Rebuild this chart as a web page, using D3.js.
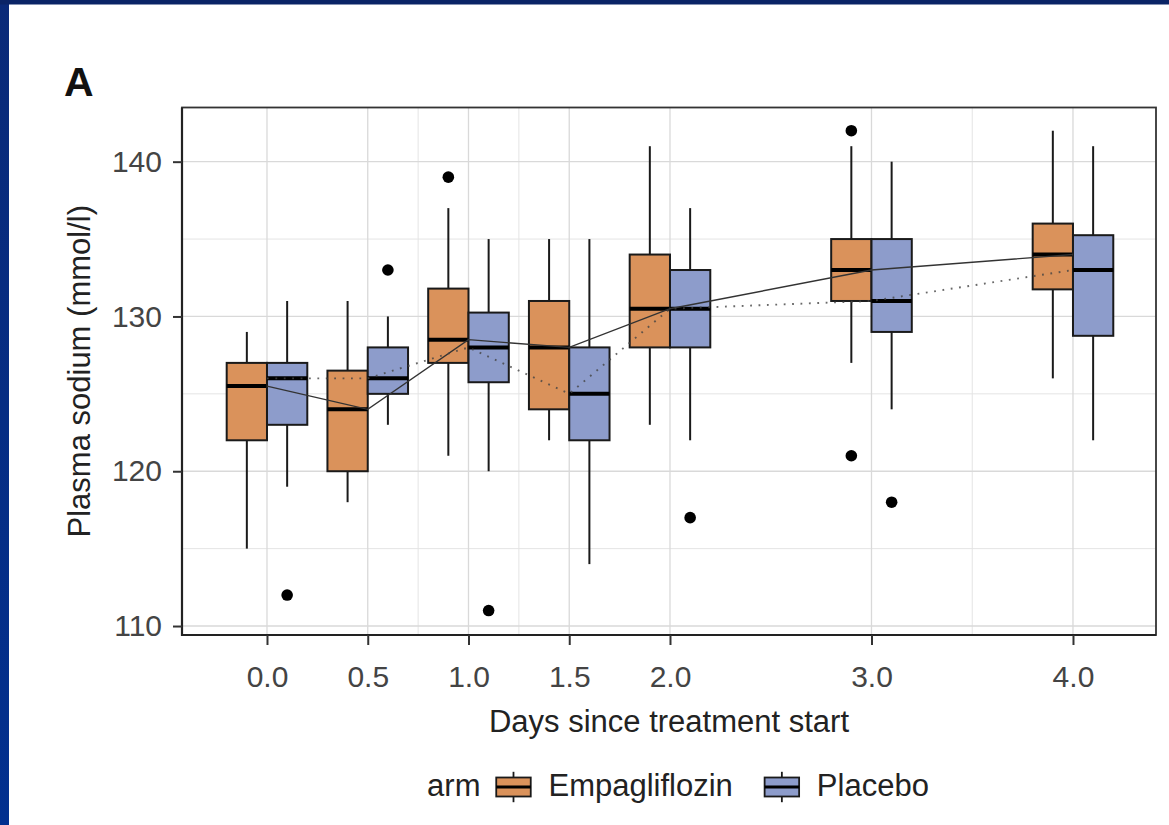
<!DOCTYPE html>
<html><head><meta charset="utf-8">
<script src="https://cdn.jsdelivr.net/npm/d3@7"></script>
<style>body{margin:0;background:#fff;} svg{display:block}</style>
</head><body>
<svg id="chart" width="1169" height="825"></svg>
<script>
// ---------------- data ----------------
const days = [0, 0.5, 1, 1.5, 2, 3, 4];
const xTickLabels = ["0.0", "0.5", "1.0", "1.5", "2.0", "3.0", "4.0"];
const xMinorBreaks = [0.75, 1.25, 3.5];
const yTicks = [110, 120, 130, 140];
const yMinorBreaks = [115, 125, 135];
const arms = ["Empagliflozin", "Placebo"];
// [lower whisker, Q1, median, Q3, upper whisker]
const empaStats = [
  [115, 122, 125.5, 127, 129],
  [118, 120, 124, 126.5, 131],
  [121, 127, 128.5, 131.8, 137],
  [122, 124, 128, 131, 135],
  [123, 128, 130.5, 134, 141],
  [127, 131, 133, 135, 141],
  [126, 131.75, 134, 136, 142]
];
const empaOutliers = [[], [], [139], [], [], [142, 121], []];
const placeboStats = [
  [119, 123, 126, 127, 131],
  [123, 125, 126, 128, 130],
  [120, 125.75, 128, 130.25, 135],
  [114, 122, 125, 128, 135],
  [122, 128, 130.5, 133, 137],
  [124, 129, 131, 135, 140],
  [122, 128.75, 133, 135.25, 141]
];
const placeboOutliers = [[112], [133], [111], [], [117], [118], []];

// ---------------- style ----------------
const fills = {"Empagliflozin": "#DA925B", "Placebo": "#8D9CCB"};
const dodge = {"Empagliflozin": -0.1, "Placebo": 0.1};
const boxWidthDays = 0.2;
const FONT = "'Liberation Sans', Arial, Helvetica, sans-serif";

const svg = d3.select("#chart");
svg.append("rect").attr("width", 1169).attr("height", 825).attr("fill", "#fff");
// dark blue slide frame
const grad = svg.append("defs").append("linearGradient").attr("id", "lb").attr("x1", 0).attr("x2", 0).attr("y1", 0).attr("y2", 1);
grad.append("stop").attr("offset", "0%").attr("stop-color", "#0a2a78");
grad.append("stop").attr("offset", "100%").attr("stop-color", "#02308f");
svg.append("rect").attr("x", 0).attr("y", 0).attr("width", 9).attr("height", 825).attr("fill", "url(#lb)");
svg.append("rect").attr("x", 0).attr("y", 0).attr("width", 1169).attr("height", 4.5).attr("fill", "#0a2466");

const P = {left: 182, right: 1156, top: 107.5, bottom: 635};
const x = d3.scaleLinear().domain([-0.4218, 4.412]).range([P.left, P.right]);
const y = d3.scaleLinear().domain([109.42, 143.5]).range([P.bottom, P.top]);

const g = svg.append("g");
// grid
g.selectAll(".ymin").data(yMinorBreaks).join("line")
  .attr("x1", P.left).attr("x2", P.right).attr("y1", d => y(d)).attr("y2", d => y(d))
  .attr("stroke", "#e4e4e4").attr("stroke-width", 1);
g.selectAll(".xmin").data(xMinorBreaks).join("line")
  .attr("y1", P.top).attr("y2", P.bottom).attr("x1", d => x(d)).attr("x2", d => x(d))
  .attr("stroke", "#e4e4e4").attr("stroke-width", 1);
g.selectAll(".ymaj").data(yTicks).join("line")
  .attr("x1", P.left).attr("x2", P.right).attr("y1", d => y(d)).attr("y2", d => y(d))
  .attr("stroke", "#d9d9d9").attr("stroke-width", 1.3);
g.selectAll(".xmaj").data(days).join("line")
  .attr("y1", P.top).attr("y2", P.bottom).attr("x1", d => x(d)).attr("x2", d => x(d))
  .attr("stroke", "#d9d9d9").attr("stroke-width", 1.3);

// boxes
const bw = x(boxWidthDays) - x(0);
function drawArm(arm, stats, outliers) {
  const ga = g.append("g");
  stats.forEach((s, i) => {
    const cx = x(days[i] + dodge[arm]);
    ga.append("line").attr("x1", cx).attr("x2", cx).attr("y1", y(s[4])).attr("y2", y(s[3]))
      .attr("stroke", "#1a1a1a").attr("stroke-width", 2);
    ga.append("line").attr("x1", cx).attr("x2", cx).attr("y1", y(s[1])).attr("y2", y(s[0]))
      .attr("stroke", "#1a1a1a").attr("stroke-width", 2);
    ga.append("rect").attr("x", cx - bw / 2).attr("width", bw)
      .attr("y", y(s[3])).attr("height", y(s[1]) - y(s[3]))
      .attr("fill", fills[arm]).attr("stroke", "#1a1a1a").attr("stroke-width", 2);
    ga.append("line").attr("x1", cx - bw / 2).attr("x2", cx + bw / 2).attr("y1", y(s[2])).attr("y2", y(s[2]))
      .attr("stroke", "#000").attr("stroke-width", 4);
    outliers[i].forEach(o => {
      ga.append("circle").attr("cx", cx).attr("cy", y(o)).attr("r", 5.8).attr("fill", "#000");
    });
  });
}
drawArm("Empagliflozin", empaStats, empaOutliers);
drawArm("Placebo", placeboStats, placeboOutliers);

// median trend lines
const line = d3.line().x(d => x(d[0])).y(d => y(d[1]));
g.append("path").datum(days.map((d, i) => [d, empaStats[i][2]]))
  .attr("d", line).attr("fill", "none").attr("stroke", "#333").attr("stroke-width", 1.4);
g.append("path").datum(days.map((d, i) => [d, placeboStats[i][2]]))
  .attr("d", line).attr("fill", "none").attr("stroke", "#444").attr("stroke-opacity", 0.8)
  .attr("stroke-width", 1.9).attr("stroke-dasharray", "1.8,6.6");

// panel border
g.append("rect").attr("x", P.left).attr("y", P.top).attr("width", P.right - P.left).attr("height", P.bottom - P.top)
  .attr("fill", "none").attr("stroke", "#333").attr("stroke-width", 1.8);
g.append("line").attr("x1", P.left).attr("x2", P.left).attr("y1", P.top).attr("y2", P.bottom + 1)
  .attr("stroke", "#222").attr("stroke-width", 2.2);
g.append("line").attr("x1", P.left - 1).attr("x2", P.right).attr("y1", P.bottom).attr("y2", P.bottom)
  .attr("stroke", "#222").attr("stroke-width", 2.2);

// axes
const yAxis = d3.axisLeft(y).tickValues(yTicks).tickSize(9).tickPadding(11).tickFormat(d3.format("d"));
const ya = svg.append("g").attr("transform", `translate(${P.left},0)`).call(yAxis);
const xAxis = d3.axisBottom(x).tickValues(days).tickSize(10).tickPadding(21)
  .tickFormat((d, i) => xTickLabels[i]);
const xa = svg.append("g").attr("transform", `translate(0,${P.bottom})`).call(xAxis);
[ya, xa].forEach(a => {
  a.select(".domain").remove();
  a.selectAll(".tick line").attr("stroke", "#333").attr("stroke-width", 2);
  a.selectAll(".tick text").attr("fill", "#444").style("font-family", FONT).style("font-size", "30px");
});
xa.selectAll(".tick text").attr("dy", "0.71em");

// titles
svg.append("text").attr("x", (P.left + P.right) / 2).attr("y", 732).attr("text-anchor", "middle")
  .style("font-family", FONT).style("font-size", "31px").attr("fill", "#222").text("Days since treatment start");
svg.append("text").attr("transform", `translate(90,${(P.top + P.bottom) / 2}) rotate(-90)`).attr("text-anchor", "middle")
  .style("font-family", FONT).style("font-size", "31px").attr("fill", "#222").text("Plasma sodium (mmol/l)");
svg.append("text").attr("x", 64).attr("y", 96).style("font-family", FONT).style("font-size", "41px")
  .style("font-weight", "bold").attr("fill", "#111").text("A");

// legend
const lg = svg.append("g");
const legendBaseline = 796, keyW = 46, keyH = 38, keyCy = 787;
const gapTitle = 10, gapKeyText = 12, gapItems = 26;
const lt = lg.append("text").attr("x", 0).attr("y", legendBaseline).style("font-family", FONT)
  .style("font-size", "31px").attr("fill", "#222").text("arm");
let cursor = lt.node().getComputedTextLength() + gapTitle;
arms.forEach((arm, i) => {
  const kx = cursor;
  const ky = keyCy - keyH / 2;
  lg.append("line").attr("x1", kx + keyW / 2).attr("x2", kx + keyW / 2).attr("y1", ky + keyH * 0.1).attr("y2", ky + keyH * 0.9)
    .attr("stroke", "#1a1a1a").attr("stroke-width", 1.8);
  lg.append("rect").attr("x", kx + keyW * 0.125).attr("width", keyW * 0.75).attr("y", ky + keyH * 0.25).attr("height", keyH * 0.5)
    .attr("fill", fills[arm]).attr("stroke", "#1a1a1a").attr("stroke-width", 1.8);
  lg.append("line").attr("x1", kx + keyW * 0.125).attr("x2", kx + keyW * 0.875).attr("y1", keyCy).attr("y2", keyCy)
    .attr("stroke", "#000").attr("stroke-width", 3.2);
  const t = lg.append("text").attr("x", kx + keyW + gapKeyText).attr("y", legendBaseline).style("font-family", FONT)
    .style("font-size", "31px").attr("fill", "#222").text(arm);
  cursor = kx + keyW + gapKeyText + t.node().getComputedTextLength() + gapItems;
});
const totalW = cursor - gapItems;
lg.attr("transform", `translate(${678 - totalW / 2},0)`);
</script>
</body></html>
